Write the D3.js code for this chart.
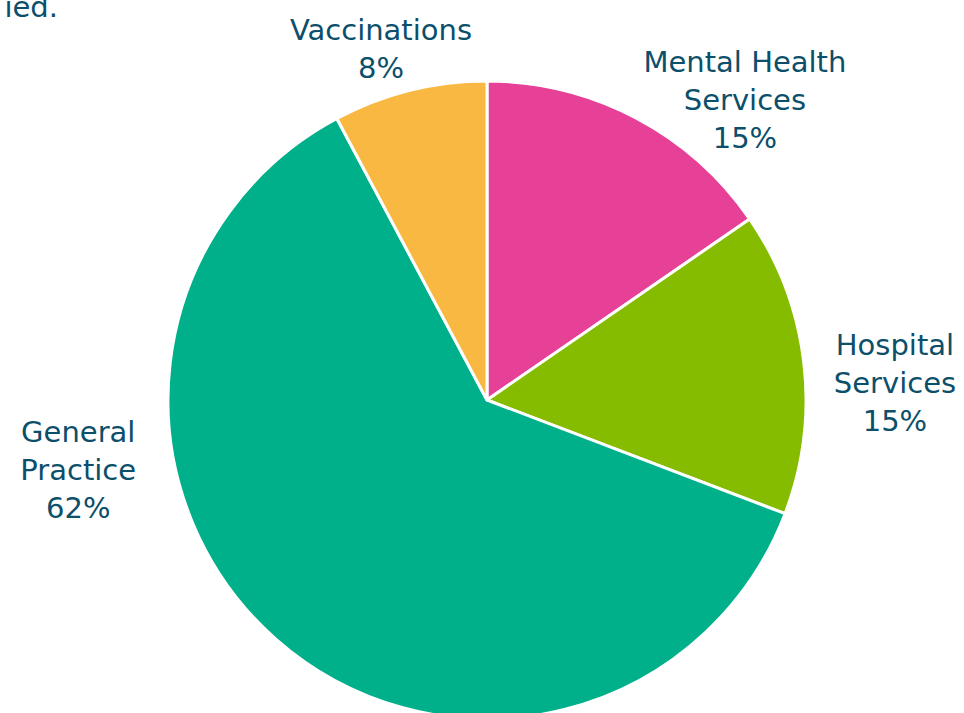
<!DOCTYPE html>
<html>
<head>
<meta charset="utf-8">
<title>Pie chart</title>
<style>
  body { margin: 0; background: #fff; }
  svg text { font-family: "DejaVu Sans", sans-serif; fill: #0b4f6a; }
</style>
</head>
<body>
<div id="container"></div>
<script src="https://cdn.jsdelivr.net/npm/d3@7"></script>
<script>
  // data
  var categories = ["Mental Health Services", "Hospital Services", "General Practice", "Vaccinations"];
  var shares = [15.4, 15.4, 61.4, 7.8];
  var shareLabels = ["15%", "15%", "62%", "8%"];
  var labelLines = [["Mental Health", "Services"], ["Hospital", "Services"], ["General", "Practice"], ["Vaccinations"]];
  var colors = ["#e64097", "#86bc00", "#00b08a", "#f8b841"];

  // layout: label position as [angle in degrees from 12 o'clock, distance in radii]
  var labelPolar = [[40.7, 1.24], [87.6, 1.28], [260.3, 1.30], [343.2, 1.15]];

  var width = 964, height = 713;
  var cx = 487, cy = 400, radius = 319;

  var svg = d3.select("#container").append("svg")
      .attr("width", width)
      .attr("height", height);

  // bit of the title that is left over in the crop
  svg.append("text")
      .attr("x", 58)
      .attr("y", 17)
      .attr("text-anchor", "end")
      .style("font-size", "29px")
      .text("ied.");

  var pie = d3.pie().sort(null).value(function(d) { return d; });
  var arc = d3.arc().innerRadius(0).outerRadius(radius);

  var g = svg.append("g").attr("transform", "translate(" + cx + "," + cy + ")");

  var arcs = pie(shares);

  g.selectAll("path.slice")
    .data(arcs)
    .enter().append("path")
      .attr("class", "slice")
      .attr("d", arc)
      .attr("fill", function(d, i) { return colors[i]; })
      .attr("stroke", "#fff")
      .attr("stroke-width", 3)
      .attr("stroke-linejoin", "round");

  var lineH = 38;
  arcs.forEach(function(d, i) {
    var a = labelPolar[i][0] * Math.PI / 180;
    var r = labelPolar[i][1] * radius;
    var x = r * Math.sin(a), y = -r * Math.cos(a);
    var lines = labelLines[i].concat([shareLabels[i]]);
    var t = g.append("text")
        .attr("text-anchor", "middle")
        .style("font-size", "29px");
    lines.forEach(function(l, j) {
      t.append("tspan")
        .attr("x", x)
        .attr("y", y + (j - (lines.length - 1) / 2) * lineH + 10)
        .text(l);
    });
  });
</script>
</body>
</html>
